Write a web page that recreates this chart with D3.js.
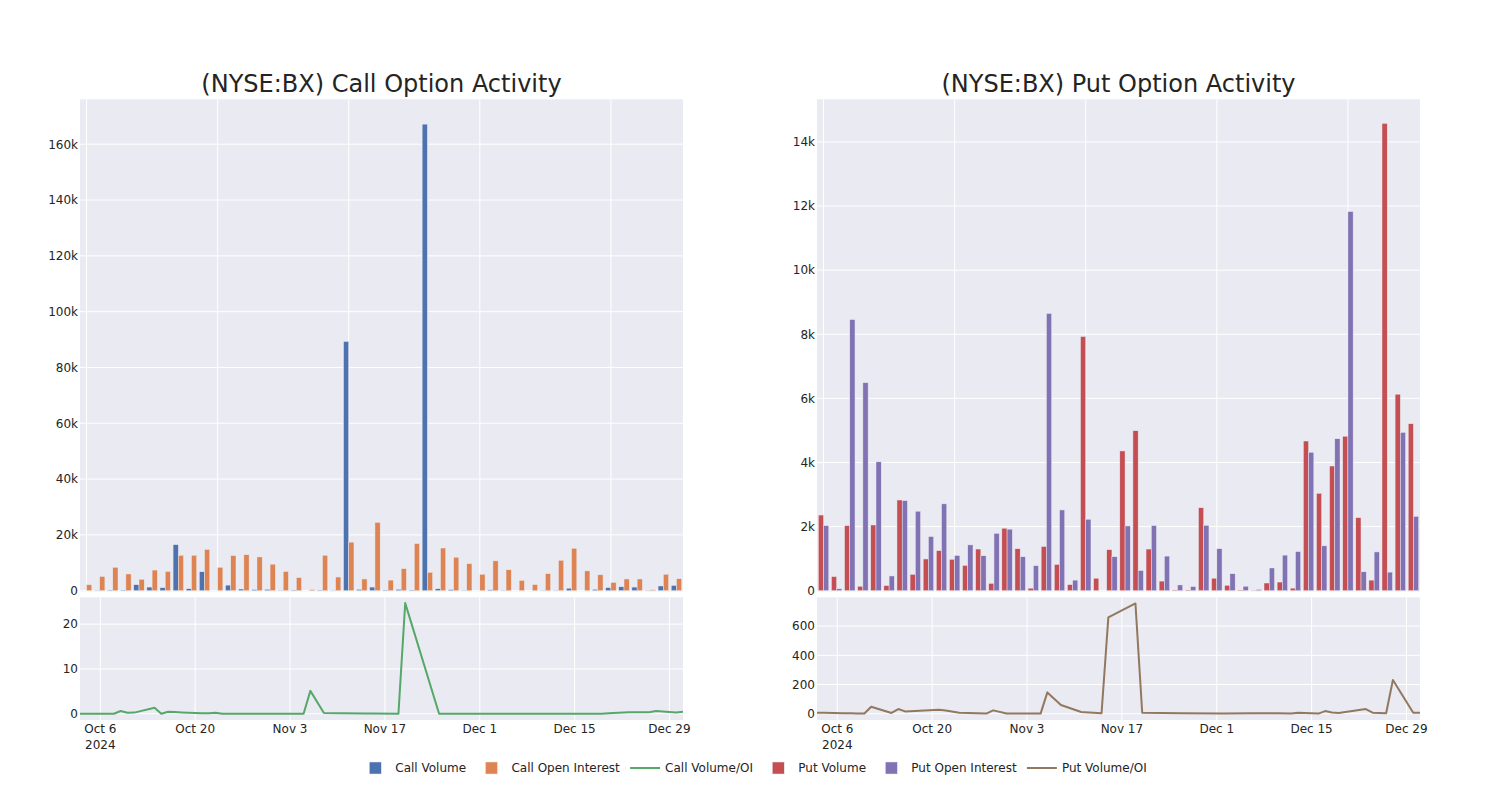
<!DOCTYPE html>
<html><head><meta charset="utf-8">
<script src="https://cdn.jsdelivr.net/npm/d3@7"></script>
<style>body{margin:0;background:#fff} svg{display:block;font-family:"DejaVu Sans",sans-serif}</style>
</head><body><svg id="c" width="1500" height="800"></svg>
<script>
// ---------- data ----------
const categories = ["2024-10-03","2024-10-04","2024-10-07","2024-10-08","2024-10-09","2024-10-10","2024-10-11","2024-10-14","2024-10-15","2024-10-16",
  "2024-10-17","2024-10-18","2024-10-21","2024-10-22","2024-10-23","2024-10-24","2024-10-28","2024-10-29","2024-10-31","2024-11-05",
  "2024-11-06","2024-11-08","2024-11-11","2024-11-14","2024-11-15","2024-11-19","2024-11-20","2024-11-25","2024-11-26","2024-11-27",
  "2024-12-02","2024-12-06","2024-12-10","2024-12-12","2024-12-13","2024-12-16","2024-12-17","2024-12-18","2024-12-19","2024-12-20",
  "2024-12-23","2024-12-24","2024-12-26","2024-12-27","2024-12-30","2024-12-31"];
const callVolume = [0,100,200,200,2150,1300,1100,16500,700,6800,
  0,2000,600,400,500,100,200,0,200,100,
  89300,500,1300,200,500,200,167200,700,400,100,
  0,300,100,0,0,100,100,900,0,500,
  1100,1400,1300,100,1700,1900];
const callOpenInterest = [2150,5100,8400,6000,4100,7400,6900,12700,12700,14800,
  8400,12600,12900,12100,9500,6900,4700,400,12700,4900,
  17400,4200,24500,3800,7900,16900,6600,15300,12000,9700,
  5900,10700,7500,3700,2200,6100,10900,15200,7100,5700,
  3000,4200,4200,300,5900,4300];
const putVolume = [2360,440,2030,140,2050,160,2830,510,990,1250,
  980,790,1300,230,1950,1310,80,1380,820,190,
  7930,390,1280,4360,4990,1300,300,20,20,2590,
  390,170,20,10,240,270,80,4670,3040,3890,
  4820,2280,330,14580,6130,5210];
const putOpenInterest = [2030,60,8460,6490,4020,460,2810,2480,1690,2710,
  1100,1430,1090,1790,1920,1060,780,8650,2520,330,
  2230,0,1060,2020,630,2030,1080,180,130,2040,
  1310,530,140,40,710,1110,1220,4320,1400,4740,
  11830,590,1210,580,4940,2320];

const callRatioDates = ["2024-10-03","2024-10-04","2024-10-07","2024-10-08","2024-10-09","2024-10-10","2024-10-11","2024-10-14","2024-10-15","2024-10-16",
  "2024-10-17","2024-10-18","2024-10-21","2024-10-22","2024-10-23","2024-10-24","2024-10-28","2024-10-31","2024-11-05","2024-11-06",
  "2024-11-08","2024-11-11","2024-11-14","2024-11-15","2024-11-19","2024-11-20","2024-11-25","2024-11-26","2024-12-02","2024-12-09",
  "2024-12-16","2024-12-19","2024-12-20","2024-12-23","2024-12-24","2024-12-26","2024-12-27","2024-12-30","2024-12-31"];
const callRatio = [0,0,0,0,0.6,0.2,0.25,1.35,0,0.45,
  0.4,0.3,0.1,0.1,0.2,0,0,0,0,5.1,
  0.15,0.1,0.05,0.05,0,24.7,0,0,0,0,
  0,0,0.1,0.35,0.35,0.35,0.6,0.25,0.45];

const putRatioDates = ["2024-10-03","2024-10-04","2024-10-07","2024-10-08","2024-10-09","2024-10-10","2024-10-11","2024-10-14","2024-10-15","2024-10-16",
  "2024-10-21","2024-10-22","2024-10-24","2024-10-28","2024-10-29","2024-10-31","2024-11-05","2024-11-06","2024-11-08","2024-11-11",
  "2024-11-14","2024-11-15","2024-11-19","2024-11-20","2024-11-26","2024-12-02","2024-12-06","2024-12-10","2024-12-12","2024-12-13",
  "2024-12-16","2024-12-17","2024-12-18","2024-12-19","2024-12-23","2024-12-24","2024-12-26","2024-12-27","2024-12-30","2024-12-31"];
const putRatio = [7,6,4,3,2,1,48,5,32,16,
  27,22,7,1,23,1,1,146,60,12,
  3,660,755,7,3,2,3,4,1,7,
  1,18,9,5,32,7,3,231,7,7];

const callBarTicks = [0,20000,40000,60000,80000,100000,120000,140000,160000];
const putBarTicks = [0,2000,4000,6000,8000,10000,12000,14000];
const callRatioTicks = [0,10,20];
const putRatioTicks = [0,200,400,600];
const dateTicks = ["2024-10-06","2024-10-20","2024-11-03","2024-11-17","2024-12-01","2024-12-15","2024-12-29"];
const categoryGridIdx = [0,10,20,30,40];
const seriesNames = ["Call Volume","Call Open Interest","Call Volume/OI","Put Volume","Put Open Interest","Put Volume/OI"];
const seriesColors = ["#4C72B0","#DD8452","#55A868","#C44E52","#8172B3","#937860"];
const seriesKinds = ["bar","bar","line","bar","bar","line"];

// ---------- drawing ----------
const svg = d3.select("#c");
const TXT = "rgb(36,36,36)", BG = "#EAEAF2";
const parse = d3.utcParse("%Y-%m-%d");
const upTop = 99.3, upZero = 590.7, upBottom = 591.5;
const loTop = 597.3, loBottom = 720;

const panels = [
  {title:"(NYSE:BX) Call Option Activity", x0:80, x1:683, bars:[callVolume,callOpenInterest], colors:[seriesColors[0],seriesColors[1]],
   yMax:176100, yTicks:callBarTicks, lDates:callRatioDates, lVals:callRatio, lColor:seriesColors[2], lDom:[-1.4,26.0], lTicks:callRatioTicks},
  {title:"(NYSE:BX) Put Option Activity", x0:817, x1:1420, bars:[putVolume,putOpenInterest], colors:[seriesColors[3],seriesColors[4]],
   yMax:15330, yTicks:putBarTicks, lDates:putRatioDates, lVals:putRatio, lColor:seriesColors[5], lDom:[-43,797], lTicks:putRatioTicks}
];

const fmtK = d3.format("~s");

panels.forEach(p => {
  const g = svg.append("g");
  g.append("rect").attr("x",p.x0).attr("y",upTop).attr("width",p.x1-p.x0).attr("height",upBottom-upTop).attr("fill",BG);
  g.append("rect").attr("x",p.x0).attr("y",loTop).attr("width",p.x1-p.x0).attr("height",loBottom-loTop).attr("fill",BG);

  const xb = d3.scaleBand().domain(categories).range([p.x0,p.x1]).paddingInner(0.2).paddingOuter(0.1);
  const xs = d3.scaleBand().domain([0,1]).range([0,xb.bandwidth()]);
  const yb = d3.scaleLinear().domain([0,p.yMax]).range([upZero,upTop]);
  const center = c => xb(c) + xb.bandwidth()/2;

  g.selectAll(".hg").data(p.yTicks).join("line")
    .attr("x1",p.x0).attr("x2",p.x1).attr("y1",d=>yb(d)).attr("y2",d=>yb(d))
    .attr("stroke","#fff").attr("stroke-width",1);
  g.selectAll(".vg").data(categoryGridIdx).join("line")
    .attr("x1",i=>center(categories[i])).attr("x2",i=>center(categories[i]))
    .attr("y1",upTop).attr("y2",upBottom).attr("stroke","#fff").attr("stroke-width",1);
  g.selectAll(".yl").data(p.yTicks).join("text")
    .attr("x",p.x0-2).attr("y",d=>yb(d)).attr("dy","0.36em").attr("text-anchor","end")
    .attr("font-size",12).attr("fill",TXT).text(d=>fmtK(d));

  p.bars.forEach((vals,si) => {
    g.selectAll(".b"+si).data(categories).join("rect")
      .attr("x",c=>xb(c)+xs(si)).attr("width",xs.bandwidth())
      .attr("y",(c,i)=>yb(vals[i])).attr("height",(c,i)=>upZero-yb(vals[i]))
      .attr("fill",p.colors[si]).attr("stroke",BG).attr("stroke-width",0.5);
  });

  const xt = d3.scaleUtc().domain([parse(categories[0]), parse("2024-12-31")]).range([p.x0,p.x1]);
  const yl = d3.scaleLinear().domain(p.lDom).range([loBottom,loTop]);
  g.selectAll(".hg2").data(p.lTicks).join("line")
    .attr("x1",p.x0).attr("x2",p.x1).attr("y1",d=>yl(d)).attr("y2",d=>yl(d))
    .attr("stroke","#fff").attr("stroke-width",1);
  g.selectAll(".vg2").data(dateTicks).join("line")
    .attr("x1",d=>xt(parse(d))).attr("x2",d=>xt(parse(d))).attr("y1",loTop).attr("y2",loBottom)
    .attr("stroke","#fff").attr("stroke-width",1);
  g.selectAll(".yl2").data(p.lTicks).join("text")
    .attr("x",p.x0-2).attr("y",d=>yl(d)).attr("dy","0.36em").attr("text-anchor","end")
    .attr("font-size",12).attr("fill",TXT).text(d=>d3.format("d")(d));
  const fmtD = d3.utcFormat("%b %-d");
  const xl = g.selectAll(".xl").data(dateTicks).join("text")
    .attr("x",d=>xt(parse(d))).attr("y",732.6).attr("text-anchor","middle")
    .attr("font-size",12).attr("fill",TXT);
  xl.append("tspan").attr("x",d=>xt(parse(d))).text(d=>fmtD(parse(d)));
  xl.filter((d,i)=>i===0).append("tspan").attr("x",d=>xt(parse(d))).attr("dy",16).text(d=>d3.utcFormat("%Y")(parse(d)));

  const pts = p.lDates.map((d,i)=>[parse(d),p.lVals[i]]);
  const line = d3.line().x(d=>xt(d[0])).y(d=>yl(d[1]));
  g.append("path").datum(pts).attr("d",line).attr("fill","none")
    .attr("stroke",p.lColor).attr("stroke-width",2).attr("stroke-linejoin","round");

  g.append("text").attr("x",(p.x0+p.x1)/2).attr("y",91.7).attr("text-anchor","middle")
    .attr("font-size",24).attr("fill",TXT).text(p.title);
});

// legend
const lg = svg.append("g");
const items = seriesNames.map((n,i)=>({n, c:seriesColors[i], k:seriesKinds[i]}));
const tmp = lg.append("g");
items.forEach(it=>{ const t=tmp.append("text").attr("font-size",12).text(it.n); it.w=t.node().getComputedTextLength(); });
tmp.remove();
const gap = 5.3;
let total = 0; items.forEach((it,i)=>{ it.off = total; total += 40 + it.w + (i<items.length-1?gap:0); });
const start = 750 - total/2 + 1;
const ly = 768;
items.forEach(it=>{
  const x = start + it.off;
  if (it.k==="bar") {
    lg.append("rect").attr("x",x+14).attr("y",ly-6).attr("width",12).attr("height",12)
      .attr("fill",it.c).attr("stroke",BG).attr("stroke-width",0.5);
  } else {
    lg.append("line").attr("x1",x+5).attr("x2",x+35).attr("y1",ly).attr("y2",ly)
      .attr("stroke",it.c).attr("stroke-width",2);
  }
  lg.append("text").attr("x",x+40).attr("y",ly).attr("dy","0.36em").attr("font-size",12).attr("fill",TXT).text(it.n);
});
</script></body></html>
